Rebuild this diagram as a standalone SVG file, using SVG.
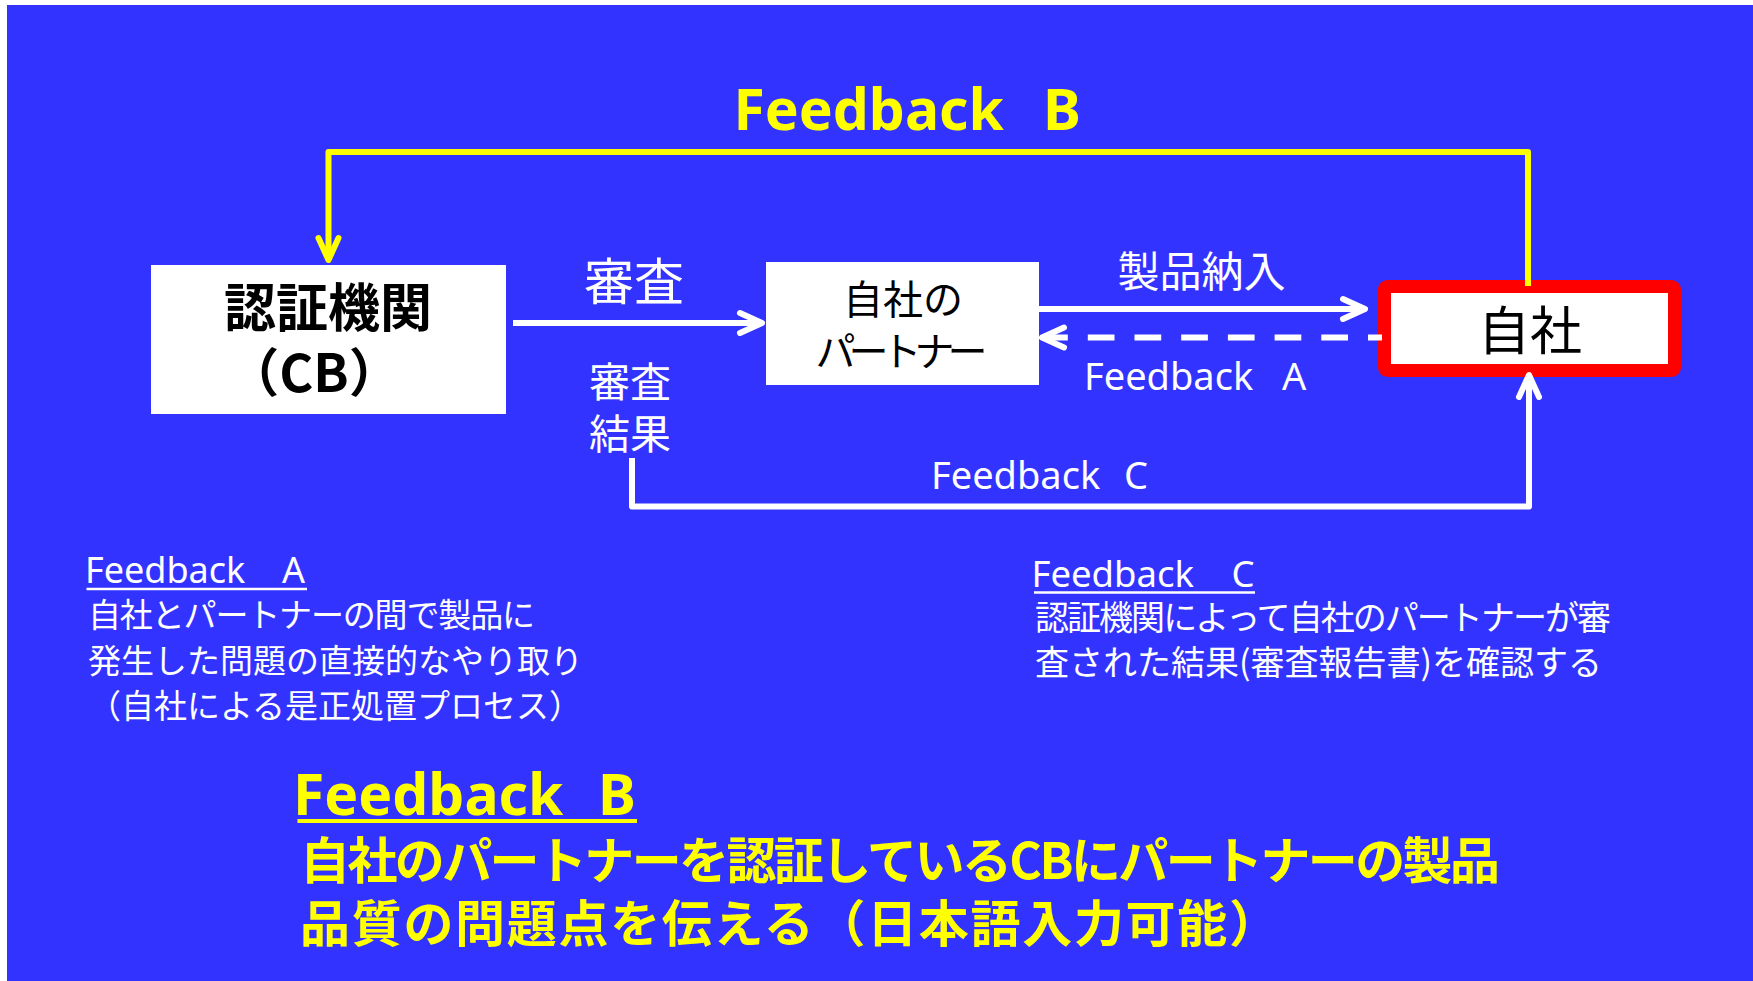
<svg xmlns="http://www.w3.org/2000/svg" width="1753" height="981" viewBox="0 0 1753 981">
<style>
.jp{font-family:"Noto Sans CJK JP","Noto Sans",sans-serif}
.lat{font-family:"Noto Sans","Noto Sans CJK JP",sans-serif}
.w{fill:#FFFFFF}
.k{fill:#000000}
.y{fill:#FFFF00}
.b{font-weight:bold}
.ln{fill:none;stroke-width:6;stroke-linejoin:round}
.wl{stroke:#FFFFFF}
.yl{stroke:#FFFF00}
</style>
<defs>
<marker id="ahW" markerUnits="userSpaceOnUse" orient="auto" overflow="visible" markerWidth="1" markerHeight="1" refX="0" refY="0">
<path d="M-22,-10 L0,0 L-22,10" fill="none" stroke="#FFFFFF" stroke-width="6" stroke-linecap="round" stroke-linejoin="round"/>
</marker>
<marker id="ahY" markerUnits="userSpaceOnUse" orient="auto" overflow="visible" markerWidth="1" markerHeight="1" refX="0" refY="0">
<path d="M-22,-10 L0,0 L-22,10" fill="none" stroke="#FFFF00" stroke-width="6" stroke-linecap="round" stroke-linejoin="round"/>
</marker>
</defs>
<rect x="7" y="5" width="1746" height="976" fill="#3333FF"/>

<g id="title">
<text class="lat y b" font-size="57" y="130"><tspan x="733.5">Feedback</tspan><tspan x="1043">B</tspan></text>
</g>

<g id="node-cb">
<rect x="151" y="265" width="355" height="149" fill="#FFFFFF"/>
<text class="jp k b" font-size="52" x="328" y="327" text-anchor="middle">認証機関</text>
<text class="jp k b" font-size="52" x="314" y="392" text-anchor="middle">（CB）</text>
</g>

<g id="node-partner">
<rect x="766" y="262" width="273" height="123" fill="#FFFFFF"/>
<text class="jp k" font-size="40" x="903" y="314" text-anchor="middle">自社の</text>
<text class="jp k" font-size="40" x="901.5" y="366" text-anchor="middle" textLength="172" lengthAdjust="spacing">パートナー</text>
</g>

<g id="node-self">
<rect x="1384.5" y="286.5" width="290" height="84" rx="3" fill="#FFFFFF" stroke="#FF0000" stroke-width="13"/>
<text class="jp k" font-size="52" x="1530" y="350" text-anchor="middle">自社</text>
</g>

<g id="connectors">
<path class="ln yl" d="M1528,286 V152 H328.5 V260" marker-end="url(#ahY)"/>
<path class="ln wl" d="M513,323 H762" marker-end="url(#ahW)"/>
<path class="ln wl" d="M1039,309 H1365" marker-end="url(#ahW)"/>
<path class="ln wl" d="M1382,337.5 H1042" stroke-dasharray="26.7 20" stroke-dashoffset="12.7" marker-end="url(#ahW)"/>
<path class="ln wl" d="M632,458 V506.5 H1529 V375" marker-end="url(#ahW)"/>
</g>

<g id="labels">
<text class="jp w" font-size="50" x="634" y="300" text-anchor="middle">審査</text>
<text class="jp w" font-size="41" x="630" y="397" text-anchor="middle">審査</text>
<text class="jp w" font-size="41" x="630" y="449" text-anchor="middle">結果</text>
<text class="jp w" font-size="42" x="1201.5" y="287" text-anchor="middle">製品納入</text>
<text class="lat w" font-size="38" y="390"><tspan x="1084">Feedback</tspan><tspan x="1282">A</tspan></text>
<text class="lat w" font-size="38" y="489"><tspan x="931">Feedback</tspan><tspan x="1124">C</tspan></text>
</g>

<g id="note-a">
<text class="lat w" font-size="36" y="583"><tspan x="85">Feedback</tspan><tspan x="282">A</tspan></text>
<line x1="86.5" y1="589" x2="307" y2="589" stroke="#FFFFFF" stroke-width="2.5"/>
<text class="jp w" font-size="33" x="88" y="627" textLength="447" lengthAdjust="spacing">自社とパートナーの間で製品に</text>
<text class="jp w" font-size="33" x="88" y="672.5">発生した問題の直接的なやり取り</text>
<text class="jp w" font-size="33" x="88" y="718">（自社による是正処置プロセス）</text>
</g>

<g id="note-c">
<text class="lat w" font-size="36.5" y="587"><tspan x="1031.5">Feedback</tspan><tspan x="1231.5">C</tspan></text>
<line x1="1034" y1="592.5" x2="1255" y2="592.5" stroke="#FFFFFF" stroke-width="2.5"/>
<text class="jp w" font-size="34" x="1035" y="630" textLength="576" lengthAdjust="spacing">認証機関によって自社のパートナーが審</text>
<text class="jp w" font-size="34" x="1035" y="675">査された結果(審査報告書)を確認する</text>
</g>

<g id="note-b">
<text class="lat y b" font-size="57" y="815"><tspan x="293">Feedback</tspan><tspan x="598">B</tspan></text>
<line x1="297.5" y1="821" x2="637" y2="821" stroke="#FFFF00" stroke-width="4"/>
<text class="jp y b" font-size="50" x="300" y="878.5" textLength="1200" lengthAdjust="spacing">自社のパートナーを認証しているCBにパートナーの製品</text>
<text class="jp y b" font-size="50" x="300" y="941.5" textLength="979" lengthAdjust="spacing">品質の問題点を伝える（日本語入力可能）</text>
</g>
</svg>
